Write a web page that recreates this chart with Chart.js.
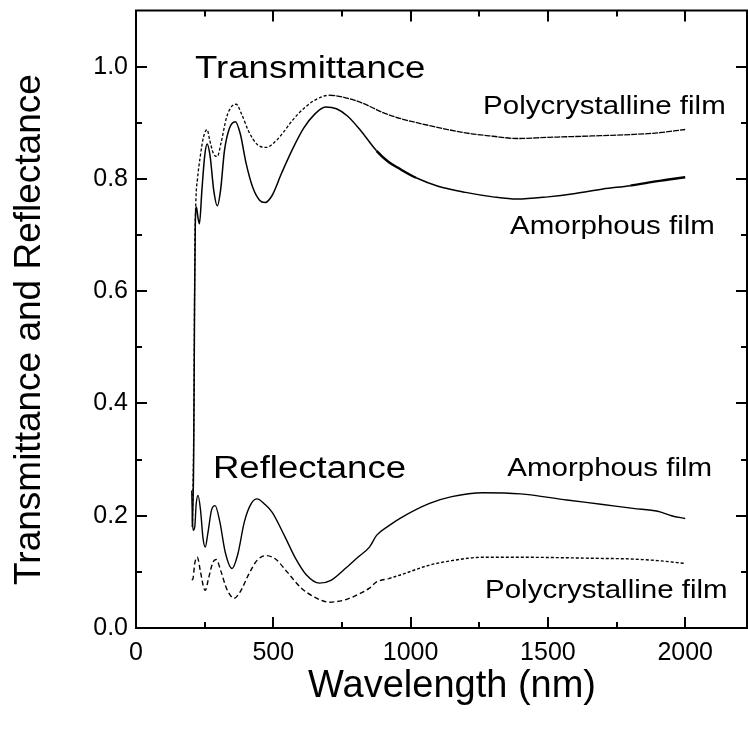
<!DOCTYPE html>
<html lang="en">
<head>
  <meta charset="UTF-8">
  <title>Transmittance and Reflectance</title>
  <script src="https://cdn.jsdelivr.net/npm/chart.js"></script>
  <style>
    body {
      margin: 0;
      padding: 0;
      background: #ffffff;
    }
    .wrap {
      width: 748px;
      height: 733px;
    }
  </style>
</head>
<body>
  <div class="wrap">
    <canvas id="grafico" width="748" height="733"></canvas>
  </div>

  <script>
    // valores (comprimento de onda em nm)
    const tAmorWl = [205, 210, 213, 216, 220, 226, 231, 240, 250, 259, 270, 283, 296, 308, 322, 340, 362, 380, 400, 425, 450, 470, 495, 530, 570, 610, 650, 690, 730, 770, 820, 876, 920, 960, 1020, 1100, 1200, 1300, 1387, 1500, 1600, 1700, 1800, 1900, 2000];
    const tAmor   = [0.18, 0.30, 0.55, 0.72, 0.75, 0.73, 0.72, 0.78, 0.84, 0.862, 0.84, 0.78, 0.752, 0.78, 0.85, 0.89, 0.902, 0.88, 0.83, 0.785, 0.762, 0.758, 0.77, 0.81, 0.853, 0.89, 0.915, 0.928, 0.925, 0.912, 0.885, 0.85, 0.83, 0.818, 0.802, 0.787, 0.776, 0.768, 0.764, 0.768, 0.774, 0.782, 0.788, 0.796, 0.803];

    const tPolyWl = [206, 211, 214, 218, 224, 234, 246, 259, 268, 282, 296, 310, 330, 350, 365, 385, 410, 440, 474, 510, 540, 569, 610, 650, 704, 760, 825, 900, 960, 1069, 1200, 1300, 1387, 1500, 1690, 1800, 1900, 2000];
    const tPoly   = [0.19, 0.40, 0.66, 0.76, 0.80, 0.84, 0.875, 0.888, 0.87, 0.845, 0.84, 0.865, 0.91, 0.93, 0.933, 0.915, 0.885, 0.862, 0.856, 0.868, 0.885, 0.904, 0.925, 0.94, 0.949, 0.945, 0.935, 0.918, 0.908, 0.895, 0.882, 0.876, 0.872, 0.874, 0.877, 0.879, 0.882, 0.888];

    const rAmorWl = [203, 205, 208, 214, 219, 226, 235, 244, 252, 262, 275, 288, 305, 325, 350, 370, 395, 420, 441, 470, 496, 540, 580, 620, 668, 710, 760, 810, 850, 876, 920, 960, 1069, 1150, 1263, 1400, 1569, 1700, 1810, 1900, 1950, 2000];
    const rAmor   = [0.245, 0.20, 0.174, 0.18, 0.22, 0.236, 0.21, 0.16, 0.144, 0.17, 0.21, 0.218, 0.19, 0.135, 0.106, 0.13, 0.19, 0.222, 0.23, 0.22, 0.206, 0.165, 0.125, 0.095, 0.08, 0.085, 0.105, 0.127, 0.144, 0.165, 0.182, 0.195, 0.222, 0.234, 0.241, 0.239, 0.228, 0.22, 0.213, 0.208, 0.20, 0.195];

    const rPolyWl = [204, 208, 214, 223, 235, 245, 252, 265, 280, 292, 310, 330, 358, 380, 410, 440, 474, 510, 550, 600, 650, 704, 760, 810, 850, 876, 920, 960, 1069, 1150, 1263, 1400, 1690, 1800, 1900, 2000];
    const rPoly   = [0.085, 0.089, 0.115, 0.126, 0.10, 0.075, 0.067, 0.09, 0.117, 0.122, 0.10, 0.07, 0.053, 0.065, 0.095, 0.12, 0.129, 0.122, 0.10, 0.072, 0.055, 0.046, 0.05, 0.06, 0.071, 0.082, 0.088, 0.094, 0.112, 0.12, 0.126, 0.126, 0.124, 0.123, 0.12, 0.115];

    // marcas dos eixos
    const xTicks = [0, 250, 500, 750, 1000, 1250, 1500, 1750, 2000];
    const yTicks = [0, 0.1, 0.2, 0.3, 0.4, 0.5, 0.6, 0.7, 0.8, 0.9, 1.0];

    // textos dentro do grafico: [texto, x (nm), y, tamanho]
    const rotulos = [
      ['Transmittance', 215, 0.98, 31],
      ['Polycrystalline film', 1264, 0.915, 25],
      ['Amorphous film', 1362, 0.702, 25],
      ['Reflectance', 280, 0.268, 31],
      ['Amorphous film', 1352, 0.271, 25],
      ['Polycrystalline film', 1271, 0.053, 25]
    ];

    const fonte = "'Liberation Sans', Arial, sans-serif";

    function pares(xs, ys) {
      return xs.map((x, i) => ({ x: x, y: ys[i] }));
    }

    function multiplo(v, passo) {
      const q = v / passo;
      return Math.abs(q - Math.round(q)) < 1e-6;
    }

    // moldura, marcas internas e textos
    const molduraPlugin = {
      id: 'moldura',
      afterDraw(chart) {
        const ctx = chart.ctx;
        const a = chart.chartArea;
        const sx = chart.scales.x;
        const sy = chart.scales.y;
        ctx.save();
        ctx.strokeStyle = '#000';
        ctx.lineWidth = 2;
        ctx.strokeRect(a.left, a.top, a.right - a.left, a.bottom - a.top);

        sx.ticks.forEach(t => {
          const px = Math.round(sx.getPixelForValue(t.value));
          const len = multiplo(t.value, 500) ? 11 : 6;
          ctx.beginPath();
          ctx.moveTo(px, a.bottom);
          ctx.lineTo(px, a.bottom - len);
          ctx.moveTo(px, a.top);
          ctx.lineTo(px, a.top + len);
          ctx.stroke();
        });
        sy.ticks.forEach(t => {
          const py = Math.round(sy.getPixelForValue(t.value));
          const len = multiplo(t.value, 0.2) ? 11 : 6;
          ctx.beginPath();
          ctx.moveTo(a.left, py);
          ctx.lineTo(a.left + len, py);
          ctx.moveTo(a.right, py);
          ctx.lineTo(a.right - len, py);
          ctx.stroke();
        });

        ctx.fillStyle = '#000';
        ctx.textBaseline = 'alphabetic';
        ctx.textAlign = 'left';
        rotulos.forEach(r => {
          const px = sx.getPixelForValue(r[1]);
          const py = sy.getPixelForValue(r[2]);
          ctx.save();
          ctx.translate(px, py);
          ctx.scale(1.18, 1);
          ctx.font = r[3] + 'px ' + fonte;
          ctx.fillText(r[0], 0, 0);
          ctx.restore();
        });
        ctx.restore();
      }
    };

    const ctx = document.getElementById('grafico').getContext('2d');

    new Chart(ctx, {
      type: 'line',
      data: {
        datasets: [
          {
            label: 'T amorphous',
            data: pares(tAmorWl, tAmor),
            borderColor: '#000',
            borderWidth: 1.5,
            pointRadius: 0,
            cubicInterpolationMode: 'monotone',
            segment: {
              borderWidth: s => (s.p0.parsed.x > 840 && s.p0.parsed.x < 1000) || s.p0.parsed.x > 1750 ? 2.4 : 1.5
            }
          },
          {
            label: 'T polycrystalline',
            data: pares(tPolyWl, tPoly),
            borderColor: '#000',
            borderWidth: 1.3,
            pointRadius: 0,
            cubicInterpolationMode: 'monotone',
            segment: {
              borderDash: s => s.p0.parsed.x < 680 ? [3, 2] : [6, 1]
            }
          },
          {
            label: 'R amorphous',
            data: pares(rAmorWl, rAmor),
            borderColor: '#000',
            borderWidth: 1.4,
            pointRadius: 0,
            cubicInterpolationMode: 'monotone'
          },
          {
            label: 'R polycrystalline',
            data: pares(rPolyWl, rPoly),
            borderColor: '#000',
            borderWidth: 1.4,
            pointRadius: 0,
            cubicInterpolationMode: 'monotone',
            segment: {
              borderDash: s => s.p0.parsed.x < 900 ? [5, 3] : [3, 2]
            }
          }
        ]
      },
      options: {
        responsive: false,
        animation: false,
        layout: { padding: { top: 4, right: 1, left: 0, bottom: 0 } },
        plugins: {
          legend: { display: false },
          tooltip: { enabled: false }
        },
        scales: {
          x: {
            type: 'linear',
            min: 0,
            max: 2225,
            grid: { display: false, drawTicks: false },
            border: { display: false },
            afterBuildTicks(scale) {
              scale.ticks = xTicks.map(v => ({ value: v }));
            },
            ticks: {
              padding: 10,
              color: '#000',
              maxRotation: 0,
              autoSkip: false,
              font: { family: fonte, size: 25 },
              callback: v => multiplo(v, 500) ? String(v) : ''
            },
            title: {
              display: true,
              text: '  Wavelength (nm)',
              color: '#000',
              font: { family: fonte, size: 38 },
              padding: { top: 0, bottom: 24 }
            },
            afterFit(scale) { scale.height = 105; }
          },
          y: {
            min: 0,
            max: 1.1,
            grid: { display: false, drawTicks: false },
            border: { display: false },
            afterBuildTicks(scale) {
              scale.ticks = yTicks.map(v => ({ value: v }));
            },
            ticks: {
              padding: 8,
              color: '#000',
              autoSkip: false,
              font: { family: fonte, size: 25, lineHeight: 0.2 },
              callback: v => multiplo(v, 0.2) ? v.toFixed(1) : ''
            },
            title: {
              display: true,
              text: 'Transmittance and Reflectance  ',
              color: '#000',
              font: { family: fonte, size: 37 },
              padding: { top: 8, bottom: 0 }
            },
            afterFit(scale) { scale.width = 136; }
          }
        }
      },
      plugins: [molduraPlugin]
    });
  </script>
</body>
</html>
